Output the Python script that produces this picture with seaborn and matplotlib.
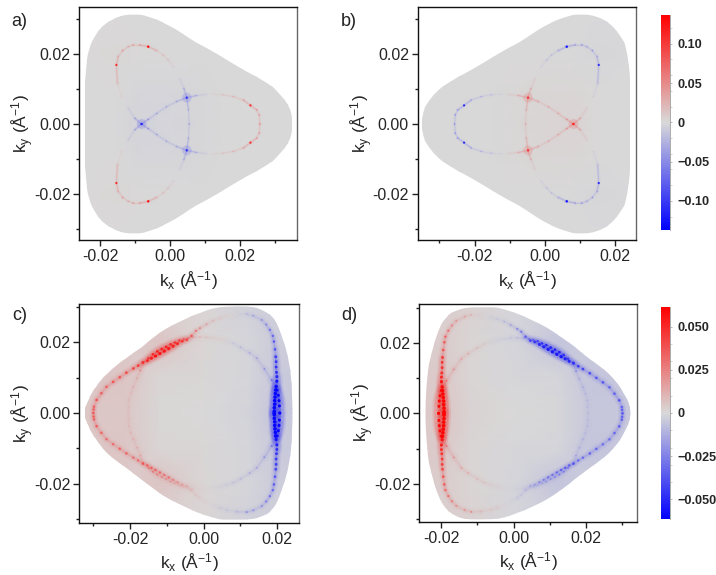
import numpy as np
import pandas as pd
import seaborn as sns
import matplotlib
matplotlib.use("Agg")
import matplotlib.pyplot as plt
from matplotlib.cm import ScalarMappable
from matplotlib.collections import LineCollection
from matplotlib.colors import LinearSegmentedColormap, Normalize
from matplotlib.patches import PathPatch
from matplotlib.path import Path

# upper half (ky >= 0) of each outline/branch, read off panels a and c
# panel b is a mirrored in kx with opposite sign, d is the same for c
outline_a_x = [.0350, .0348, .0333, .0310, .0276, .0219, .0162, .0105, .0048, -.0010, -.0057, -.0105, -.0148, -.0186, -.0214, -.0233, -.0241, -.0242, -.0242]
outline_a_y = [0, .0030, .0064, .0092, .0116, .0149, .0182, .0215, .0248, .0284, .0305, .0314, .0307, .0286, .0253, .0211, .0154, .0087, 0]

lobe_a_x = [.0257, .0255, .0248, .0230, .0210, .0181, .0152, .0124, .0105, .0076, .0048, .0019, -.0010, -.0038, -.0062, -.0081, -.0100, -.0119]
lobe_a_y = [0, .0026, .0040, .0053, .0068, .0078, .0083, .0085, .0084, .0081, .0075, .0064, .0049, .0030, .0013, 0, .0016, .0045]
lobe_a_v = [45, 50, 45, 110, 40, 35, 22, 10, -8, -35, -100, -40, -40, -45, -50, -110, -40, -15]

loop_a_x = [-.0138, -.0150, -.0153, -.0148, -.0135, -.0119, -.0105, -.0086, -.0062, -.0038, -.0019, -.0005, .0010, .0029, .0040, .0048, .0053, .0055]
loop_a_y = [.0078, .0116, .0168, .0192, .0209, .0220, .0225, .0225, .0220, .0209, .0196, .0182, .0163, .0128, .0101, .0075, .0040, 0]
loop_a_v = [12, 20, 110, 35, 50, 40, 50, 40, 125, 30, 25, 20, 12, -10, -35, -100, -35, -35]

# the three crossings of panel a, they carry a soft halo
cross_a_x = [-.0081, .0048, .0048]
cross_a_y = [0, .0075, -.0075]
cross_a_v = [-100, -90, -90]

tint_a_x = [-.025, -.015, -.008, 0, .008, .015, .036]
tint_a_y = [.032, .02, .008, 0, -.008, -.02, -.032]
tint_a = [[1, 1, .5, 0, 0, .3, .3],
          [1, 1.5, .5, 0, 0, .3, .3],
          [.5, 0, -3, -3, -2, 1, .5],
          [0, -1, -4, -3, -2, 1, .5],
          [.5, 0, -3, -3, -2, 1, .5],
          [1, 1.5, .5, 0, 0, .3, .3],
          [1, 1, .5, 0, 0, .3, .3]]

outline_c_x = [-.0323, -.0320, -.0305, -.0282, -.0237, -.0191, -.0146, -.0101, -.0055, -.0010, .0035, .0072, .0126, .0162, .0185, .0208, .0226, .0239, .0244]
outline_c_y = [0, .0023, .0056, .0093, .0136, .0169, .0207, .0240, .0263, .0284, .0299, .0303, .0303, .0291, .0277, .0235, .0178, .0103, 0]

outer_c_x = [-.0300, -.0299, -.0298, -.0291, -.0278, -.0264, -.0246, -.0228, -.0210, -.0191, -.0178, -.0165, -.0153, -.0142, -.0131, -.0119, -.0107, -.0095, -.0083, -.0071, -.0058, -.0046, -.0033, -.0021, -.0010, .0008, .0026, .0045, .0063, .0090, .0117, .0135, .0158, .0170, .0180, .0188, .0191, .0194, .0196, .0197, .0197, .0198, .0199, .0199, .0197, .0196, .0195, .0194, .0193, .0193, .0192, .0192, .0192]
outer_c_y = [0, .0010, .0018, .0037, .0056, .0074, .0088, .0101, .0114, .0126, .0134, .0143, .0148, .0155, .0161, .0168, .0175, .0182, .0189, .0196, .0203, .0207, .0218, .0232, .0240, .0251, .0261, .0268, .0274, .0279, .0280, .0275, .0263, .0250, .0235, .0218, .0202, .0180, .0159, .0145, .0130, .0115, .0103, .0090, .0075, .0065, .0055, .0045, .0035, .0025, .0015, .0005, 0]
outer_c_v = [35, 35, 35, 38, 36, 35, 38, 38, 40, 42, 44, 48, 50, 52, 55, 55, 55, 54, 52, 50, 46, 42, 36, 28, 24, 16, 11, 7, 4, 0, -12, -16, -20, -24, -30, -33, -36, -38, -45, -46, -47, -48, -50, -55, -58, -60, -60, -60, -60, -60, -60, -60, -60]
outer_c_v_low = [35, 35, 35, 36, 34, 32, 32, 34, 34, 32, 32, 38, 34, 35, 34, 32, 30, 30, 26, 24, 20, 16, 12, 8, 6, 2, -2, -5, -8, -10, -22, -20, -22, -26, -30, -32, -36, -38, -42, -44, -45, -46, -48, -52, -55, -60, -60, -60, -60, -60, -60, -60, -60]

inner_c_x = [-.0205, -.0204, -.0203, -.0198, -.0191, -.0181, -.0172, -.0165, -.0150, -.0138, -.0126, -.0114, -.0102, -.0090, -.0078, -.0066, -.0054, -.0042, -.0028, -.0010, .0008, .0026, .0044, .0062, .0081, .0100, .0125, .0144, .0165, .0185, .0197, .0200, .0203, .0205, .0206, .0207]
inner_c_y = [0, .0018, .0037, .0056, .0074, .0098, .0120, .0141, .0155, .0166, .0174, .0181, .0187, .0194, .0199, .0205, .0209, .0212, .0214, .0215, .0214, .0212, .0209, .0203, .0197, .0186, .0170, .0155, .0125, .0093, .0075, .0065, .0050, .0035, .0020, 0]
inner_c_v = [10, 10, 12, 12, 15, 16, 24, 38, 46, 50, 52, 52, 52, 50, 48, 44, 36, 28, 18, 12, 9, 6, 4, 1, -8, -12, -16, -18, -22, -30, -50, -58, -60, -60, -60, -60]
inner_c_v_low = [10, 10, 12, 12, 14, 15, 18, 25, 28, 28, 28, 26, 24, 22, 18, 14, 12, 9, 6, 3, 1, -1, -3, -6, -10, -12, -16, -18, -22, -30, -50, -58, -60, -60, -60, -60]

# slow background tint of panel c, rows from ky=+.03 down to ky=-.03
tint_c_x = [-.034, -.022, -.012, 0, .012, .018, .025]
tint_c_y = [.03, .02, .01, 0, -.01, -.02, -.03]
tint_c = [[0, 1, 2, 1, -2, -3, -3],
          [3, 4, 6, 1, -1, -3, -3.5],
          [5, 6, 1, .5, -1, -4, -4.5],
          [5, 5, .8, 0, -1.5, -5, -4.5],
          [5, 6, 1, .5, -1, -4, -4.5],
          [3, 4, 6, 1, -1, -3, -3.5],
          [0, 1, 2, 1, -2, -3, -3]]

top_ticks = [0.10, 0.05, 0, -0.05, -0.10]
top_tick_labels = ["0.10", "0.05", "0", "\u22120.05", "\u22120.10"]
top_minor = [-.12, -.08, -.06, -.04, -.02, .02, .04, .06, .08, .12]
bottom_ticks = [0.050, 0.025, 0, -0.025, -0.050]
bottom_tick_labels = ["0.050", "0.025", "0", "\u22120.025", "\u22120.050"]
bottom_minor = [-.04, -.03, -.02, -.01, .01, .02, .03, .04]

W, H = 716, 575

sns.set_theme(style="ticks")
plt.rcParams['font.family'] = ['Liberation Sans', 'DejaVu Sans']
plt.rcParams['mathtext.default'] = 'regular'
plt.rcParams['axes.unicode_minus'] = False

cmap = LinearSegmentedColormap.from_list("rwb", ['#0000ff', '#d9d9d9', '#ff0000'])


def px_axes(fig, left, top, right, bottom):
    return fig.add_axes([left / W, 1 - bottom / H, (right - left) / W, (bottom - top) / H])


def smooth_outline(x, y):
    # closed quadratic curve through the midpoints of the read-off outline
    pts = np.column_stack([x, y])
    mids = (pts + np.roll(pts, -1, axis=0)) / 2
    verts = [mids[-1]]
    codes = [Path.MOVETO]
    for p, m in zip(pts, mids):
        verts += [p, m]
        codes += [Path.CURVE3, Path.CURVE3]
    return Path(verts, codes)


def draw_field(ax, out_x, out_y, tx, ty, tz, norm, flip):
    x = np.array(out_x)
    y = np.array(out_y)
    xs = np.concatenate([x, x[-2:0:-1]])
    ys = np.concatenate([y, -y[-2:0:-1]])
    clip = PathPatch(smooth_outline(-xs if flip else xs, ys), fc='none', ec='none', transform=ax.transData)
    ax.add_patch(clip)
    gx = np.array(tx) * (-1 if flip else 1)
    gz = np.array(tz, dtype=float) / 1000 * (-1 if flip else 1)
    if flip:
        gx, gz = gx[::-1], gz[:, ::-1]
    mesh = ax.pcolormesh(gx, ty, gz, shading='gouraud', cmap=cmap, norm=norm, zorder=0)
    mesh.set_clip_path(clip)


def draw_branch(ax, x, y, v, v_low, norm, flip, glow, dot):
    x = np.array(x) * (-1 if flip else 1)
    y = np.array(y)
    for sign, vals in ((1, v), (-1, v_low)):
        vals = np.array(vals) / 1000 * (-1 if flip else 1)
        pts = np.column_stack([x, sign * y])
        segs = np.stack([pts[:-1], pts[1:]], axis=1)
        mid = (vals[:-1] + vals[1:]) / 2
        cols = cmap(norm(mid))
        for base, extra, alpha in glow:
            cols[:, 3] = alpha
            ax.add_collection(LineCollection(segs, colors=cols.copy(), capstyle='round',
                                             linewidths=base + extra * (np.abs(mid) / norm.vmax) ** 3))
        df = pd.DataFrame({'kx': x, 'ky': sign * y, 'v': vals})
        df['s'] = dot[0] + dot[1] * (np.abs(df['v']) / norm.vmax) ** 2
        sns.scatterplot(data=df, x='kx', y='ky', hue='v', palette=cmap, hue_norm=norm,
                        s=df['s'].values, linewidth=0, legend=False, ax=ax, zorder=3)


def style_axes(ax, xlim, ylim, label, lab_xy, box):
    ax.set_xlim(xlim)
    ax.set_ylim(ylim)
    ax.set_xticks([-.02, 0, .02])
    ax.set_xticklabels(['-0.02', '0.00', '0.02'])
    ax.set_yticks([-.02, 0, .02])
    ax.set_yticklabels(['-0.02', '0.00', '0.02'])
    ax.set_xticks([t for t in (-.03, -.01, .01, .03) if xlim[0] < t < xlim[1]], minor=True)
    ax.set_yticks([t for t in (-.03, -.01, .01, .03) if ylim[0] < t < ylim[1]], minor=True)
    ax.tick_params(which='major', length=4, width=1, labelsize=11.5, pad=2.5, color='#222222')
    ax.tick_params(which='minor', length=2.5, width=1, color='#222222')
    ax.set_xlabel('k$_{x}$ (Å$^{-1}$)', fontsize=12.5)
    ax.set_ylabel('k$_{y}$ (Å$^{-1}$)', fontsize=12.5)
    # label positions in pixels from the axes box
    ax.xaxis.set_label_coords(0.5, -29 / (box[3] - box[1]))
    ax.yaxis.set_label_coords(-43 / (box[2] - box[0]), 0.5)
    for side in ax.spines:
        ax.spines[side].set_visible(True)
        ax.spines[side].set_linewidth(1)
        ax.spines[side].set_color('#111111')
    ax.spines['right'].set_color('#666666')
    ax.figure.text(lab_xy[0] / W, 1 - lab_xy[1] / H, label, fontsize=13, va='center', color='#222222')


def colorbar(fig, rect, norm, ticks, labels, minor):
    cax = px_axes(fig, *rect)
    cb = fig.colorbar(ScalarMappable(norm=norm, cmap=cmap), cax=cax)
    cb.set_ticks(ticks)
    cb.set_ticklabels(labels)
    cb.outline.set_visible(False)
    cax.set_yticks(minor, minor=True)
    cax.tick_params(which='major', length=1.5, width=0.6, color='#aaaaaa', pad=3.5, labelsize=9.1)
    cax.tick_params(which='minor', length=1.2, width=0.5, color='#bbbbbb')
    cax.axvline(1, color='#aaaaaa', lw=0.7, clip_on=False)
    for t in cax.get_yticklabels():
        t.set_fontweight('bold')


def trefoil_panel(ax, norm, flip):
    draw_field(ax, outline_a_x, outline_a_y, tint_a_x, tint_a_y, tint_a, norm, flip)
    glow = [(3.0, 0, 0.03), (1.2, 1.5, 0.09), (0.6, 0, 0.22)]
    draw_branch(ax, lobe_a_x, lobe_a_y, lobe_a_v, lobe_a_v, norm, flip, glow, (0.6, 3))
    draw_branch(ax, loop_a_x, loop_a_y, loop_a_v, loop_a_v, norm, flip, glow, (0.6, 3))
    halo = pd.DataFrame({'kx': np.array(cross_a_x) * (-1 if flip else 1), 'ky': cross_a_y,
                         'v': np.array(cross_a_v) / 1000 * (-1 if flip else 1)})
    sns.scatterplot(data=halo, x='kx', y='ky', hue='v', palette=cmap, hue_norm=norm, s=50,
                    alpha=0.16, linewidth=0, legend=False, ax=ax, zorder=2)


def ring_panel(ax, norm, flip):
    draw_field(ax, outline_c_x, outline_c_y, tint_c_x, tint_c_y, tint_c, norm, flip)
    draw_branch(ax, inner_c_x, inner_c_y, inner_c_v, inner_c_v_low, norm, flip,
                [(6, 4, 0.03), (2.5, 5, 0.07), (1.0, 1, 0.14)], (0.8, 4))
    draw_branch(ax, outer_c_x, outer_c_y, outer_c_v, outer_c_v_low, norm, flip,
                [(5, 5, 0.03), (2.5, 5, 0.08), (1.0, 1, 0.18)], (1.2, 5.5))


fig = plt.figure(figsize=(W / 100, H / 100), dpi=100)
norm_top = Normalize(-0.137, 0.137)
norm_bottom = Normalize(-0.0615, 0.0615)

box_a = (79.3, 7.3, 297, 240)
ax_a = px_axes(fig, *box_a)
trefoil_panel(ax_a, norm_top, False)
style_axes(ax_a, (-.0259, .0363), (-.0330, .0332), 'a)', (11, 22), box_a)

box_b = (418, 7.3, 636, 240)
ax_b = px_axes(fig, *box_b)
trefoil_panel(ax_b, norm_top, True)
style_axes(ax_b, (-.0361, .0259), (-.0330, .0332), 'b)', (341, 22), box_b)

box_c = (79.3, 303.7, 299.3, 522.7)
ax_c = px_axes(fig, *box_c)
ring_panel(ax_c, norm_bottom, False)
style_axes(ax_c, (-.0338, .0260), (-.0310, .0309), 'c)', (12, 316), box_c)

box_d = (419.3, 304.3, 637, 521.7)
ax_d = px_axes(fig, *box_d)
ring_panel(ax_d, norm_bottom, True)
style_axes(ax_d, (-.0260, .0340), (-.0308, .0310), 'd)', (341, 316), box_d)

colorbar(fig, (660.7, 14.7, 670.3, 230), norm_top, top_ticks, top_tick_labels, top_minor)
colorbar(fig, (660.7, 306.7, 670.3, 519.3), norm_bottom, bottom_ticks, bottom_tick_labels, bottom_minor)

fig.savefig('out.png', dpi=100)
